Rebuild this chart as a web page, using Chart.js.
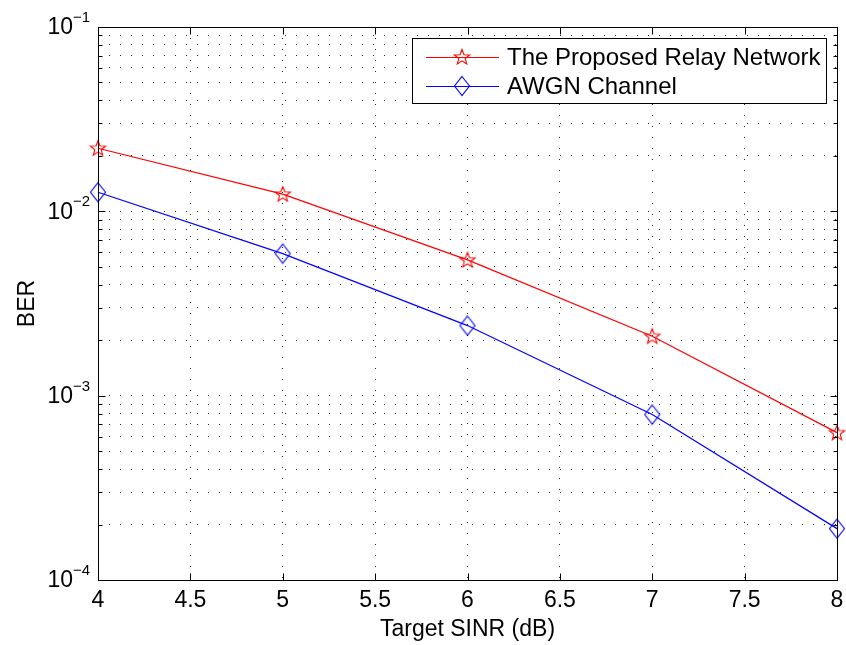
<!DOCTYPE html>
<html>
<head>
<meta charset="utf-8">
<script src="https://cdn.jsdelivr.net/npm/chart.js@4.4.0/dist/chart.umd.min.js"></script>
<style>
  html, body { margin: 0; padding: 0; background: #fff; }
</style>
</head>
<body>
<canvas id="chart" width="846" height="645"></canvas>
<script>
// Datos
const sinr = [4, 5, 6, 7, 8];
const berRelay = [0.022, 0.0124, 0.00545, 0.0021, 0.00063];
const berAwgn = [0.0127, 0.0059, 0.0024, 0.00079, 0.00019];

const xTicks = [4, 4.5, 5, 5.5, 6, 6.5, 7, 7.5, 8];
const yTickValues = [
  1e-4, 2e-4, 3e-4, 4e-4, 5e-4, 6e-4, 7e-4, 8e-4, 9e-4,
  1e-3, 2e-3, 3e-3, 4e-3, 5e-3, 6e-3, 7e-3, 8e-3, 9e-3,
  1e-2, 2e-2, 3e-2, 4e-2, 5e-2, 6e-2, 7e-2, 8e-2, 9e-2,
  1e-1
];
const yMajor = [1e-4, 1e-3, 1e-2, 1e-1];
const yMajorExp = ["−4", "−3", "−2", "−1"];

const seriesNames = ["The Proposed Relay Network", "AWGN Channel"];
const FONT = "'Liberation Sans', Arial, Helvetica, sans-serif";
const FS = 23;

// Marcador de estrella (5 puntas, sin relleno)
function makeStar(color) {
  const c = document.createElement("canvas");
  c.width = 20; c.height = 20;
  const g = c.getContext("2d");
  g.strokeStyle = color;
  g.lineWidth = 1.1;
  g.beginPath();
  for (let i = 0; i < 10; i++) {
    const r = i % 2 === 0 ? 8 : 3.4;
    const a = -Math.PI / 2 + i * Math.PI / 5;
    const px = 10 + r * Math.cos(a), py = 10.5 + r * Math.sin(a);
    if (i === 0) g.moveTo(px, py); else g.lineTo(px, py);
  }
  g.closePath();
  g.stroke();
  return c;
}

// Marcador de rombo (sin relleno)
function makeDiamond(color) {
  const c = document.createElement("canvas");
  c.width = 20; c.height = 22;
  const g = c.getContext("2d");
  g.strokeStyle = color;
  g.lineWidth = 1.1;
  g.beginPath();
  g.moveTo(10, 1.5); g.lineTo(17.5, 11); g.lineTo(10, 20.5); g.lineTo(2.5, 11);
  g.closePath();
  g.stroke();
  return c;
}

const starImg = makeStar("#ff0000");
const diamondImg = makeDiamond("#0000ff");

function line(ctx, x1, y1, x2, y2) {
  ctx.beginPath();
  ctx.moveTo(x1, y1);
  ctx.lineTo(x2, y2);
  ctx.stroke();
}

// Caja, marcas interiores, etiquetas del eje Y y leyenda
const boxPlugin = {
  id: "box",
  afterDraw(chart) {
    const { ctx, chartArea: a, scales: { x, y } } = chart;
    ctx.save();
    ctx.strokeStyle = "#000";
    ctx.lineWidth = 1;
    const L = Math.round(a.left) + 0.5, R = Math.round(a.right) + 0.5;
    const T = Math.round(a.top) + 0.5, B = Math.round(a.bottom) + 0.5;
    ctx.strokeRect(L, T, R - L, B - T);

    xTicks.forEach((v) => {
      const px = Math.round(x.getPixelForValue(v)) + 0.5;
      line(ctx, px, B, px, B - 7);
      line(ctx, px, T, px, T + 7);
    });
    yTickValues.forEach((v) => {
      const py = Math.round(y.getPixelForValue(v)) + 0.5;
      const len = yMajor.includes(v) ? 7 : 4;
      line(ctx, L, py, L + len, py);
      line(ctx, R, py, R - len, py);
    });

    // etiquetas 10^n
    ctx.fillStyle = "#000";
    ctx.textBaseline = "middle";
    yMajor.forEach((v, i) => {
      const py = y.getPixelForValue(v);
      ctx.font = FS + "px " + FONT;
      ctx.textAlign = "right";
      ctx.fillText("10", 73, py + 1);
      ctx.font = "15px " + FONT;
      ctx.textAlign = "left";
      ctx.fillText(yMajorExp[i], 73, py - 9);
    });

    // leyenda
    const lx = 412, ly = 38, lw = 414, lh = 65;
    ctx.fillStyle = "#fff";
    ctx.fillRect(lx, ly, lw, lh);
    ctx.strokeStyle = "#000";
    ctx.strokeRect(lx + 0.5, ly + 0.5, lw, lh);
    const rows = [
      { y: 57, color: "#ff0000", img: starImg },
      { y: 86, color: "#0000ff", img: diamondImg }
    ];
    rows.forEach((r, i) => {
      ctx.strokeStyle = r.color;
      line(ctx, 426, r.y + 0.5, 499, r.y + 0.5);
      ctx.drawImage(r.img, 462 - r.img.width / 2, r.y - r.img.height / 2);
      ctx.fillStyle = "#000";
      ctx.font = "24px " + FONT;
      ctx.textAlign = "left";
      ctx.textBaseline = "middle";
      ctx.fillText(seriesNames[i], 507, r.y + 1);
    });
    ctx.restore();
  }
};

const gridDash = [1, 10];

new Chart(document.getElementById("chart"), {
  type: "line",
  data: {
    datasets: [
      {
        label: seriesNames[0],
        data: sinr.map((v, i) => ({ x: v, y: berRelay[i] })),
        borderColor: "#ff0000",
        borderWidth: 1.2,
        pointStyle: starImg,
        clip: false,
        tension: 0
      },
      {
        label: seriesNames[1],
        data: sinr.map((v, i) => ({ x: v, y: berAwgn[i] })),
        borderColor: "#0000ff",
        borderWidth: 1.2,
        pointStyle: diamondImg,
        clip: false,
        tension: 0
      }
    ]
  },
  options: {
    responsive: false,
    animation: false,
    devicePixelRatio: 1,
    layout: { padding: { top: 27, right: 9, left: 0, bottom: 0 } },
    plugins: {
      legend: { display: false },
      tooltip: { enabled: false }
    },
    scales: {
      x: {
        type: "linear",
        min: 4,
        max: 8,
        afterBuildTicks: (s) => { s.ticks = xTicks.map((v) => ({ value: v })); },
        afterFit: (s) => { s.height = 65; s.paddingLeft = 0; s.paddingRight = 0; },
        grid: { color: "#222", drawTicks: false, lineWidth: 1 },
        border: { display: false, dash: gridDash },
        ticks: {
          color: "#000",
          padding: 7,
          maxRotation: 0,
          font: { family: FONT, size: FS },
          callback: (v) => String(v)
        },
        title: {
          display: true,
          text: "Target SINR (dB)",
          color: "#000",
          padding: { top: 0, bottom: 2 },
          font: { family: FONT, size: FS }
        }
      },
      y: {
        type: "logarithmic",
        min: 1e-4,
        max: 1e-1,
        afterBuildTicks: (s) => { s.ticks = yTickValues.map((v) => ({ value: v })); },
        afterFit: (s) => { s.width = 98; s.paddingTop = 0; s.paddingBottom = 0; },
        grid: { color: "#222", drawTicks: false, lineWidth: 1 },
        border: { display: false, dash: gridDash },
        ticks: { display: false },
        title: {
          display: true,
          text: "BER",
          color: "#000",
          padding: { top: 14, bottom: 0 },
          font: { family: FONT, size: FS }
        }
      }
    }
  },
  plugins: [boxPlugin]
});
</script>
</body>
</html>
